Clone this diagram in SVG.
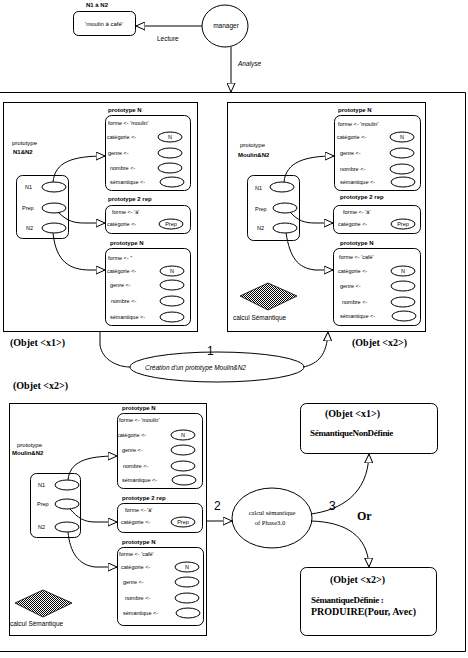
<svg xmlns="http://www.w3.org/2000/svg" width="468" height="658" viewBox="0 0 468 658">
<style>
.bx{fill:#fff;stroke:#000;stroke-width:1}
.nb{fill:none;stroke:#000;stroke-width:1}
.el{fill:#fff;stroke:#000;stroke-width:1}
.cn{fill:none;stroke:#000;stroke-width:1}
.t{font-family:"Liberation Sans",Arial,sans-serif;font-size:5.5px;fill:#000}
.pl{font-family:"Liberation Sans",Arial,sans-serif;font-size:6px;font-weight:bold;fill:#000}
.ob{font-family:"Liberation Serif","Times New Roman",serif;font-size:10px;font-weight:bold;fill:#000}
.sb{font-family:"Liberation Serif","Times New Roman",serif;font-size:9px;font-weight:bold;fill:#000}
.num{font-family:"Liberation Sans",Arial,sans-serif;font-size:12px;fill:#000}
.it{font-family:"Liberation Sans",Arial,sans-serif;font-size:6.5px;font-style:italic;fill:#000}
.sf{font-family:"Liberation Serif","Times New Roman",serif;font-size:6.5px;fill:#000}
</style>
<defs>
<marker id="tri" viewBox="0 0 10 10" refX="10" refY="5" markerWidth="9" markerHeight="9" markerUnits="userSpaceOnUse" orient="auto">
<path d="M0,0.5 L10,5 L0,9.5 z" fill="#fff" stroke="#000" stroke-width="1.1"/>
</marker>
<pattern id="chk" width="2" height="2" patternUnits="userSpaceOnUse">
<rect width="2" height="2" fill="#fff"/>
<rect width="1" height="1" fill="#000"/>
<rect x="1" y="1" width="1" height="1" fill="#000"/>
</pattern>
</defs>
<rect width="468" height="658" fill="#fff"/>

<g id="frame">
<path class="nb" d="M0,92.5 H465.5 V651.5 H0"/>
</g>

<g id="source">
<text class="pl" x="86" y="7">N1 à N2</text>
<rect class="bx" x="73.5" y="11.5" width="62" height="24" rx="5"/>
<text class="t" x="104" y="25.5" text-anchor="middle" style="font-size:6px">'moulin à café'</text>
</g>

<g id="manager">
<ellipse class="el" cx="225" cy="26" rx="23" ry="21"/>
<text class="t" x="226" y="28" text-anchor="middle" style="font-size:6.5px">manager</text>
</g>

<g id="panel1">
<rect class="nb" x="3.5" y="102.5" width="194" height="229"/>
<text class="pl" x="12" y="145" style="font-weight:normal">prototype</text>
<text class="pl" x="13" y="154">N1&amp;N2</text>
<g id="p1-words">
<rect class="bx" x="16.5" y="175.5" width="52" height="63" rx="6"/>
<text class="t" x="25" y="189">N1</text>
<ellipse class="el" cx="54" cy="187" rx="12" ry="5"/>
<text class="t" x="22" y="210">Prep</text>
<ellipse class="el" cx="54" cy="208" rx="12" ry="5"/>
<text class="t" x="26" y="230">N2</text>
<ellipse class="el" cx="54" cy="228" rx="12" ry="5"/>
</g>
<g id="p1-protoA">
<text class="pl" x="108" y="112">prototype N</text>
<rect class="bx" x="105.5" y="115.5" width="85" height="75" rx="6"/>
<text class="t" x="108" y="125">forme &lt;- 'moulin'</text>
<text class="t" x="107" y="139">catégorie &lt;-</text>
<ellipse class="el" cx="170" cy="137" rx="12" ry="5"/>
<text class="t" x="170" y="139" text-anchor="middle">N</text>
<text class="t" x="108" y="155">genre &lt;-</text>
<ellipse class="el" cx="170" cy="153" rx="12" ry="5"/>
<text class="t" x="110" y="170">nombre &lt;-</text>
<ellipse class="el" cx="170" cy="168" rx="12" ry="5"/>
<text class="t" x="110" y="184">sémantique &lt;-</text>
<ellipse class="el" cx="172" cy="182" rx="12" ry="5"/>
</g>
<g id="p1-protoB">
<text class="pl" x="108" y="201">prototype 2 rep</text>
<rect class="bx" x="105.5" y="205.5" width="85" height="28" rx="6"/>
<text class="t" x="112" y="214">forme &lt;- 'à'</text>
<text class="t" x="107" y="226">catégorie &lt;-</text>
<ellipse class="el" cx="171" cy="224" rx="12" ry="5"/>
<text class="t" x="171" y="226" text-anchor="middle">Prep</text>
</g>
<g id="p1-protoC">
<text class="pl" x="110" y="245">prototype N</text>
<rect class="bx" x="105.5" y="248.5" width="85" height="77" rx="6"/>
<text class="t" x="108" y="260">forme &lt;- ''</text>
<text class="t" x="107" y="273">catégorie &lt;-</text>
<ellipse class="el" cx="172" cy="271" rx="12" ry="5"/>
<text class="t" x="172" y="273" text-anchor="middle">N</text>
<text class="t" x="110" y="287">genre &lt;-</text>
<ellipse class="el" cx="172" cy="285" rx="12" ry="5"/>
<text class="t" x="111" y="303">nombre &lt;-</text>
<ellipse class="el" cx="172" cy="301" rx="12" ry="5"/>
<text class="t" x="110" y="319">sémantique &lt;-</text>
<ellipse class="el" cx="172" cy="317" rx="12" ry="5"/>
</g>
</g>

<g id="panel2">
<rect class="nb" x="227.5" y="102.5" width="198" height="229"/>
<text class="pl" x="240" y="147" style="font-weight:normal">prototype</text>
<text class="pl" x="238" y="157">Moulin&amp;N2</text>
<g id="p2-words">
<rect class="bx" x="247.5" y="175.5" width="52" height="65" rx="6"/>
<text class="t" x="255" y="190">N1</text>
<ellipse class="el" cx="282" cy="187" rx="12" ry="5"/>
<text class="t" x="255" y="211">Prep</text>
<ellipse class="el" cx="285" cy="208" rx="12" ry="5"/>
<text class="t" x="257" y="230">N2</text>
<ellipse class="el" cx="285" cy="228" rx="12" ry="5"/>
</g>
<g id="p2-protoA">
<text class="pl" x="338" y="112">prototype N</text>
<rect class="bx" x="334.5" y="115.5" width="86" height="75" rx="6"/>
<text class="t" x="338" y="126">forme &lt;- 'moulin'</text>
<text class="t" x="337" y="139">catégorie &lt;-</text>
<ellipse class="el" cx="402" cy="137" rx="12" ry="5"/>
<text class="t" x="402" y="139" text-anchor="middle">N</text>
<text class="t" x="340" y="155">genre &lt;-</text>
<ellipse class="el" cx="402" cy="153" rx="12" ry="5"/>
<text class="t" x="340" y="171">nombre &lt;-</text>
<ellipse class="el" cx="402" cy="169" rx="12" ry="5"/>
<text class="t" x="340" y="184">sémantique &lt;-</text>
<ellipse class="el" cx="403" cy="182" rx="12" ry="5"/>
</g>
<g id="p2-protoB">
<text class="pl" x="340" y="199">prototype 2 rep</text>
<rect class="bx" x="333.5" y="205.5" width="87" height="28" rx="6"/>
<text class="t" x="343" y="214">forme &lt;- 'à'</text>
<text class="t" x="338" y="226">catégorie &lt;-</text>
<ellipse class="el" cx="403" cy="224" rx="12" ry="5"/>
<text class="t" x="403" y="226" text-anchor="middle">Prep</text>
</g>
<g id="p2-protoC">
<text class="pl" x="340" y="245">prototype N</text>
<rect class="bx" x="333.5" y="248.5" width="87" height="77" rx="6"/>
<text class="t" x="339" y="259">forme &lt;- 'café'</text>
<text class="t" x="338" y="273">catégorie &lt;-</text>
<ellipse class="el" cx="403" cy="271" rx="12" ry="5"/>
<text class="t" x="403" y="273" text-anchor="middle">N</text>
<text class="t" x="340" y="288">genre &lt;-</text>
<ellipse class="el" cx="403" cy="286" rx="12" ry="5"/>
<text class="t" x="342" y="304">nombre &lt;-</text>
<ellipse class="el" cx="403" cy="302" rx="12" ry="5"/>
<text class="t" x="340" y="318">sémantique &lt;-</text>
<ellipse class="el" cx="404" cy="316" rx="12" ry="5"/>
</g>
<g id="p2-calc">
<polygon points="240,296 268,283 297,296 268,310" fill="url(#chk)" stroke="#000" stroke-width="0.8"/>
<text class="t" x="233" y="320" style="font-size:6.5px">calcul Sémantique</text>
</g>
</g>

<g id="labels-mid">
<text class="ob" x="10" y="346">(Objet &lt;x1&gt;)</text>
<text class="ob" x="352" y="346">(Objet &lt;x2&gt;)</text>
<text class="ob" x="13" y="389">(Objet &lt;x2&gt;)</text>
</g>

<g id="creation">
<ellipse class="el" cx="217" cy="367" rx="87" ry="15"/>
<text class="it" x="145" y="369.5">Création d'un prototype Moulin&amp;N2</text>
</g>

<g id="panel3">
<rect class="nb" x="9.5" y="403.5" width="197" height="232"/>
<text class="pl" x="17" y="447" style="font-weight:normal">prototype</text>
<text class="pl" x="12" y="455">Moulin&amp;N2</text>
<g id="p3-words">
<rect class="bx" x="30.5" y="473.5" width="50" height="64" rx="6"/>
<text class="t" x="38" y="487">N1</text>
<ellipse class="el" cx="67" cy="485" rx="12" ry="5"/>
<text class="t" x="37" y="506">Prep</text>
<ellipse class="el" cx="67" cy="504" rx="12" ry="5"/>
<text class="t" x="38" y="529">N2</text>
<ellipse class="el" cx="67" cy="527" rx="12" ry="5"/>
</g>
<g id="p3-protoA">
<text class="pl" x="122" y="410">prototype N</text>
<rect class="bx" x="117.5" y="413.5" width="85" height="75" rx="6"/>
<text class="t" x="119" y="422">forme &lt;- 'moulin'</text>
<text class="t" x="117" y="437">catégorie &lt;-</text>
<ellipse class="el" cx="183" cy="435" rx="12" ry="5"/>
<text class="t" x="183" y="437" text-anchor="middle">N</text>
<text class="t" x="122" y="452">genre &lt;-</text>
<ellipse class="el" cx="183" cy="450" rx="12" ry="5"/>
<text class="t" x="123" y="468">nombre &lt;-</text>
<ellipse class="el" cx="183" cy="466" rx="12" ry="5"/>
<text class="t" x="122" y="482">sémantique &lt;-</text>
<ellipse class="el" cx="184" cy="480" rx="12" ry="5"/>
</g>
<g id="p3-protoB">
<text class="pl" x="122" y="500">prototype 2 rep</text>
<rect class="bx" x="117.5" y="503.5" width="85" height="29" rx="6"/>
<text class="t" x="125" y="512">forme &lt;- 'à'</text>
<text class="t" x="121" y="524">catégorie &lt;-</text>
<ellipse class="el" cx="183" cy="522" rx="12" ry="5"/>
<text class="t" x="183" y="524" text-anchor="middle">Prep</text>
</g>
<g id="p3-protoC">
<text class="pl" x="122" y="544">prototype N</text>
<rect class="bx" x="117.5" y="547.5" width="86" height="78" rx="6"/>
<text class="t" x="119" y="556">forme &lt;- 'café'</text>
<text class="t" x="121" y="569">catégorie &lt;-</text>
<ellipse class="el" cx="187" cy="567" rx="12" ry="5"/>
<text class="t" x="187" y="569" text-anchor="middle">N</text>
<text class="t" x="123" y="584">genre &lt;-</text>
<ellipse class="el" cx="187" cy="582" rx="12" ry="5"/>
<text class="t" x="125" y="600">nombre &lt;-</text>
<ellipse class="el" cx="187" cy="598" rx="12" ry="5"/>
<text class="t" x="123" y="615">sémantique &lt;-</text>
<ellipse class="el" cx="188" cy="613" rx="12" ry="5"/>
</g>
<g id="p3-calc">
<polygon points="15,603 43,590 72,603 43,617" fill="url(#chk)" stroke="#000" stroke-width="0.8"/>
<text class="t" x="10" y="626" style="font-size:6.5px">calcul Sémantique</text>
</g>
</g>

<g id="calcul">
<ellipse class="el" cx="272" cy="518" rx="40" ry="30"/>
<text class="sf" x="272" y="515" text-anchor="middle">calcul sémantique</text>
<text class="sf" x="270" y="525" text-anchor="middle">of Phase3.0</text>
</g>

<g id="nondefinie">
<rect class="bx" x="300.5" y="403.5" width="137" height="50" rx="6"/>
<text class="ob" x="325" y="417">(Objet &lt;x1&gt;)</text>
<text class="sb" x="310" y="436" letter-spacing="-0.3">SémantiqueNonDéfinie</text>
</g>

<g id="definie">
<rect class="bx" x="300.5" y="567.5" width="136" height="68" rx="6"/>
<text class="ob" x="330" y="583">(Objet &lt;x2&gt;)</text>
<text class="sb" x="311" y="603" letter-spacing="-0.3">SémantiqueDéfinie :</text>
<text class="ob" x="311" y="615">PRODUIRE(Pour, Avec)</text>
</g>

<g id="connectors">
<line class="cn" x1="202" y1="26" x2="136" y2="26" marker-end="url(#tri)"/>
<text class="t" x="157" y="41" style="font-size:6.5px">Lecture</text>
<line class="cn" x1="231" y1="47" x2="231" y2="92" marker-end="url(#tri)"/>
<text class="it" x="238" y="66">Analyse</text>

<path class="cn" d="M53,182 C55,162 72,156 105,156" marker-end="url(#tri)"/>
<path class="cn" d="M58,212 C68,222 75,223 85,223 L105,223" marker-end="url(#tri)"/>
<path class="cn" d="M53,233 C56,262 70,270 90,270 L105,270" marker-end="url(#tri)"/>

<path class="cn" d="M284,182 C286,162 305,156 334,156" marker-end="url(#tri)"/>
<path class="cn" d="M290,212 C298,221 305,223 315,223 L333,223" marker-end="url(#tri)"/>
<path class="cn" d="M286,233 C290,258 298,268 315,270 L333,270" marker-end="url(#tri)"/>

<path class="cn" d="M68,480 C70,462 85,456 117,456" marker-end="url(#tri)"/>
<path class="cn" d="M70,509 C78,518 84,522 95,522 L117,522" marker-end="url(#tri)"/>
<path class="cn" d="M68,532 C70,552 78,565 95,567 L117,567" marker-end="url(#tri)"/>

<path class="cn" d="M100,332 L100,345 C102,360 118,367 130,367"/>
<path class="cn" d="M303,367 C318,364 327,355 328,332" marker-end="url(#tri)"/>
<text class="num" x="207" y="355">1</text>

<line class="cn" x1="206" y1="521" x2="232" y2="521" marker-end="url(#tri)"/>
<text class="num" x="214" y="510">2</text>

<path class="cn" d="M311,514 C340,510 368,495 369,454" marker-end="url(#tri)"/>
<text class="num" x="329" y="510">3</text>
<text class="ob" x="357" y="520" style="font-size:12px">Or</text>
<path class="cn" d="M311,521 C345,522 368,535 369,567" marker-end="url(#tri)"/>
</g>
</svg>
